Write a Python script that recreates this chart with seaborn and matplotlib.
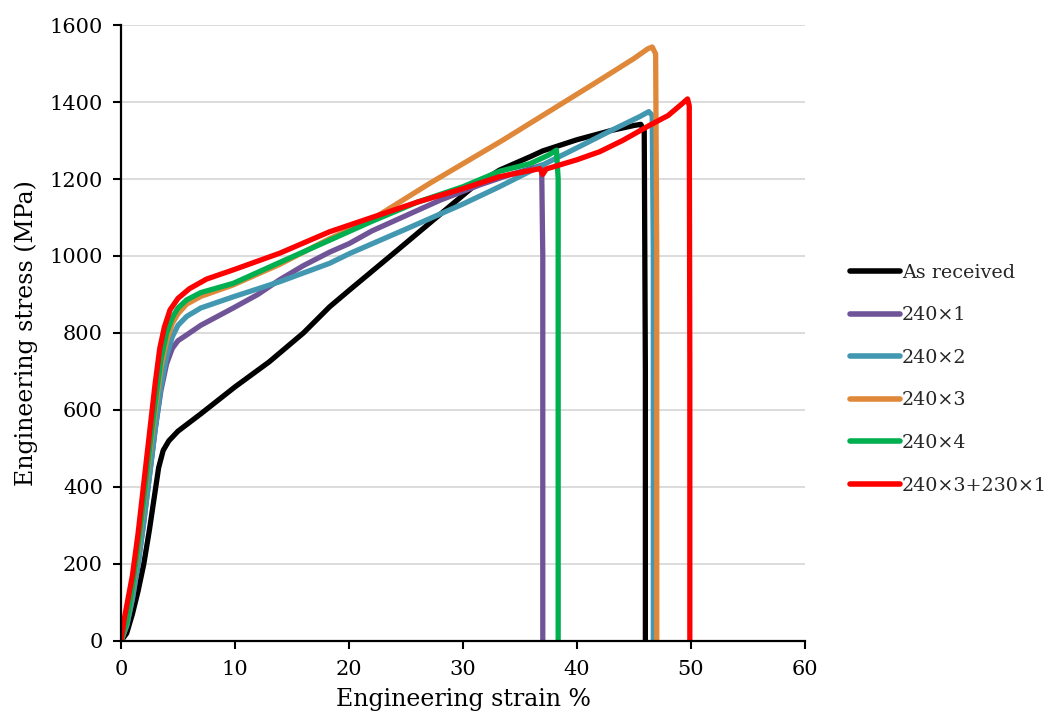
import matplotlib
matplotlib.use("Agg")
import matplotlib.pyplot as plt
import seaborn as sns
import pandas as pd

# ---- data ----
labels = ["As received", "240×1", "240×2", "240×3", "240×4", "240×3+230×1"]
colors = ["#000000", "#6F5597", "#4298B0", "#E0883A", "#00B050", "#FF0000"]

asr_x = [0, 0.5, 1.0, 1.5, 2.0, 2.5, 3.0, 3.3, 3.7, 4.2, 5.0, 7.0, 10.0, 13.0, 16.0, 18.3,
         20.1, 24.2, 27.1, 30.9, 33.2, 35.9, 37.0, 40.0, 43.0, 45.0, 45.6, 45.9, 46.0, 46.0]
asr_y = [0, 20, 70, 130, 200, 290, 390, 450, 495, 520, 545, 590, 660, 725, 800, 868,
         913, 1014, 1086, 1180, 1223, 1258, 1273, 1302, 1326, 1339, 1342, 1325, 700, 0]

s1_x = [0, 0.5, 1, 1.5, 2, 2.5, 3, 3.5, 4, 4.5, 5, 5.76, 7, 9.85, 12, 13.9, 16, 18.3,
        20, 22, 25, 28, 31.5, 34, 36.5, 36.9, 37.0, 37.0]
s1_y = [0, 40, 110, 200, 310, 430, 550, 650, 720, 760, 780, 795, 820, 865, 900, 938, 975, 1010,
        1032, 1065, 1105, 1145, 1185, 1210, 1232, 1236, 1000, 0]

s2_x = [0, 0.5, 1, 1.5, 2, 2.5, 3, 3.5, 4, 4.5, 5, 5.76, 7, 9.85, 13.9, 18.3, 20.1, 25,
        30, 33.2, 36.75, 40, 43, 45.5, 46.3, 46.6, 46.7, 46.7]
s2_y = [0, 40, 110, 200, 310, 430, 550, 660, 740, 790, 820, 843, 865, 894, 933, 981, 1007, 1070,
        1135, 1180, 1233, 1281, 1326, 1362, 1375, 1365, 1000, 0]

s3_x = [0, 0.5, 1, 1.5, 2, 2.5, 3, 3.5, 4, 4.5, 5, 5.76, 7, 9.85, 13.9, 18.3, 22, 27.1,
        33.5, 42, 45, 46.2, 46.6, 46.9, 47.0, 47.0]
s3_y = [0, 50, 135, 240, 360, 485, 600, 710, 780, 825, 850, 875, 895, 925, 978, 1045, 1095, 1189,
        1301, 1457, 1513, 1538, 1543, 1525, 1000, 0]

s4_x = [0, 0.5, 1, 1.5, 2, 2.5, 3, 3.5, 4, 4.5, 5, 5.76, 7, 9.85, 13.9, 18.3, 22, 26, 30,
        33.2, 35.9, 37.5, 38.2, 38.35, 38.35]
s4_y = [0, 50, 140, 250, 370, 500, 620, 730, 800, 840, 865, 886, 905, 929, 983, 1041, 1090, 1140, 1180,
        1220, 1240, 1262, 1275, 1200, 0]

s5_x = [0, 0.3, 1.0, 1.5, 2.0, 2.5, 3.0, 3.4, 3.8, 4.3, 5.0, 6.0, 7.5, 9.85, 13.9, 18.3, 22,
        26, 30, 33.2, 35.9, 36.75, 37.0, 37.3, 40, 42, 44, 46.4, 48, 49.2, 49.7, 49.85, 49.9, 49.9]
s5_y = [0, 60, 170, 280, 410, 540, 670, 760, 815, 860, 890, 915, 940, 964, 1007, 1063, 1100,
        1140, 1175, 1206, 1222, 1227, 1212, 1226, 1250, 1271, 1300, 1340, 1365, 1395, 1408, 1390, 700, 0]

xs = [asr_x, s1_x, s2_x, s3_x, s4_x, s5_x]
ys = [asr_y, s1_y, s2_y, s3_y, s4_y, s5_y]

x_ticks = [0, 10, 20, 30, 40, 50, 60]
y_ticks = [0, 200, 400, 600, 800, 1000, 1200, 1400, 1600]

# ---- plot ----
sns.set_theme(style="white")
plt.rcParams["font.family"] = ["DejaVu Serif"]

fig = plt.figure(figsize=(10.55, 7.25), dpi=100)
ax = fig.add_axes([0.1147, 0.1159, 0.6483, 0.8496])

for lab, col, x, y in zip(labels, colors, xs, ys):
    df = pd.DataFrame({"strain": x, "stress": y})
    sns.lineplot(data=df, x="strain", y="stress", sort=False, estimator=None,
                 color=col, lw=3.8, label=lab, ax=ax, solid_joinstyle="round",
                 solid_capstyle="round")

ax.set_xlim(0, 60)
ax.set_ylim(0, 1600)
ax.set_xticks(x_ticks)
ax.set_yticks(y_ticks)
ax.yaxis.grid(True, color="#D9D9D9", lw=1.3)
ax.xaxis.grid(False)
ax.set_axisbelow(True)
for s in ["top", "right"]:
    ax.spines[s].set_visible(False)
for s in ["left", "bottom"]:
    ax.spines[s].set_color("black")
    ax.spines[s].set_linewidth(1.6)
ax.tick_params(axis="both", which="major", direction="out", length=6, width=1.5,
               color="black", labelsize=15, labelcolor="black", left=True, bottom=True)
ax.tick_params(axis="x", pad=8)
ax.tick_params(axis="y", pad=7)
ax.set_xlabel("Engineering strain %", fontsize=17, color="black", labelpad=6)
ax.set_ylabel("Engineering stress (MPa)", fontsize=17, color="black", labelpad=8)

leg = ax.legend(loc="center left", bbox_to_anchor=(1.041, 0.425), frameon=False,
                fontsize=13.8, handlelength=2.6, handletextpad=0.1, labelspacing=1.28)
for line in leg.get_lines():
    line.set_linewidth(4)

fig.savefig("out.png", dpi=100)
